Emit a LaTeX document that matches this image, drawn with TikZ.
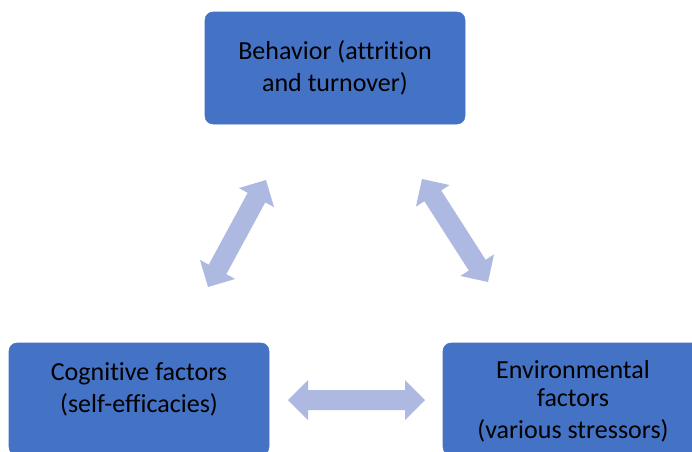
\documentclass[tikz,border=0pt]{standalone}
\usepackage{fontspec}
\setmainfont{Carlito}[Ligatures={NoCommon}]
\usetikzlibrary{calc}
\definecolor{boxblue}{RGB}{68,114,196}
\definecolor{arrowblue}{RGB}{173,185,224}
% two-headed block arrow between two points
\newcommand{\dblarrow}[2]{%
  \fill[arrowblue] (#1) -- ($(#1)!15pt!(#2)!15pt!90:(#2)$) -- ($(#1)!15pt!(#2)!7.5pt!90:(#2)$)
    -- ($(#2)!15pt!(#1)!7.5pt!-90:(#1)$) -- ($(#2)!15pt!(#1)!15pt!-90:(#1)$) -- (#2)
    -- ($(#2)!15pt!(#1)!15pt!90:(#1)$) -- ($(#2)!15pt!(#1)!7.5pt!90:(#1)$)
    -- ($(#1)!15pt!(#2)!7.5pt!-90:(#2)$) -- ($(#1)!15pt!(#2)!15pt!-90:(#2)$) -- cycle;}

\begin{document}
\begin{tikzpicture}[x=0.75pt,y=-0.75pt,
    box/.style={rounded corners=6pt, fill=boxblue, draw=boxblue, minimum width=195pt, minimum height=84pt, inner sep=0pt},
    txt/.style={align=center, font=\fontsize{19.5}{24}\selectfont, text=black}]
    \useasboundingbox (0,0) rectangle (692,451);
    \clip (0,0) rectangle (692,451);

    \node[box, txt] (beh) at (335,68) {Behavior (attrition\\and turnover)};
    \node[box] (cog) at (139,399) {};
    \node[box] (env) at (573,399) {};
    \node[txt] (cogtext) at (139,389) {Cognitive factors\\(self-efficacies)};
    \node[txt] (envtext) at (573,401) {Environmental\\[-3pt]factors\\[0pt](various stressors)};

    \coordinate (l1) at (208,287);
    \coordinate (l2) at (266,180);
    \coordinate (r1) at (422,179);
    \coordinate (r2) at (488,282);
    \coordinate (b1) at (288,400);
    \coordinate (b2) at (425,400);

    \dblarrow{l1}{l2}
    \dblarrow{r1}{r2}
    \dblarrow{b1}{b2}
\end{tikzpicture}
\end{document}
